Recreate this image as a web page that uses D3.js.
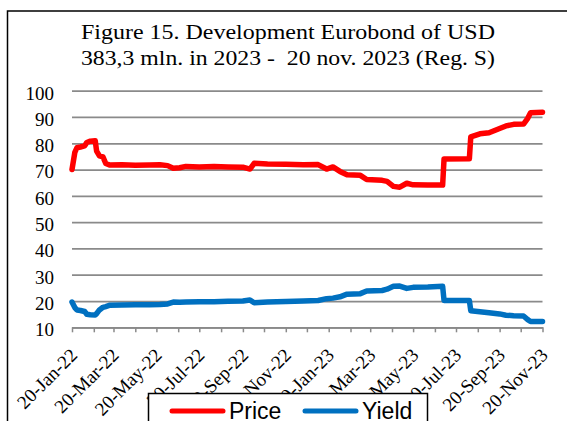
<!DOCTYPE html>
<html>
<head>
<meta charset="utf-8">
<script src="https://cdn.jsdelivr.net/npm/d3@7"></script>
<style>
  html, body { margin: 0; padding: 0; background: #fff; }
  svg { display: block; }
</style>
</head>
<body>
<div class="chart-container"></div>
<script>
// data
const dates = [
  '2022-01-20','2022-01-24','2022-01-27','2022-02-01','2022-02-07','2022-02-10','2022-02-15','2022-02-22',
  '2022-02-24','2022-02-28','2022-03-05','2022-03-09','2022-03-15','2022-04-01','2022-04-20','2022-05-10',
  '2022-05-25','2022-06-05','2022-06-13','2022-06-22','2022-07-01','2022-07-20','2022-08-10','2022-08-30',
  '2022-09-20','2022-09-30','2022-10-06','2022-10-25','2022-11-20','2022-12-15','2023-01-05','2023-01-17',
  '2023-01-26','2023-02-05','2023-02-15','2023-03-06','2023-03-15','2023-04-06','2023-04-13','2023-04-22',
  '2023-05-01','2023-05-11','2023-05-20','2023-06-10','2023-07-01','2023-07-03','2023-08-08','2023-08-10',
  '2023-08-23','2023-09-05','2023-09-20','2023-09-29','2023-10-10','2023-10-24','2023-10-30','2023-11-03',
  '2023-11-20'
];
const priceValues = [
  70.0, 76.5, 78.3, 78.6, 79.0, 80.3, 80.8, 81.0,
  77.0, 75.2, 74.8, 72.3, 71.7, 71.8, 71.6, 71.7,
  71.8, 71.5, 70.5, 70.7, 71.2, 71.0, 71.2, 71.0,
  70.9, 70.2, 72.4, 72.1, 72.0, 71.8, 71.9, 70.2,
  71.0, 69.3, 68.0, 67.8, 66.2, 65.9, 65.5, 63.6,
  63.3, 64.8, 64.2, 64.1, 64.1, 74.0, 74.1, 82.4,
  83.6, 84.0, 85.6, 86.6, 87.2, 87.3, 89.5, 91.6,
  91.8
];
const yieldValues = [
  19.6, 17.5, 16.6, 16.4, 16.0, 15.0, 14.8, 14.7,
  15.2, 16.6, 17.6, 17.9, 18.4, 18.5, 18.6, 18.6,
  18.7, 18.9, 19.6, 19.5, 19.6, 19.7, 19.7, 19.9,
  20.0, 20.4, 19.3, 19.6, 19.8, 20.0, 20.2, 20.9,
  21.1, 21.6, 22.6, 22.8, 23.8, 24.0, 24.5, 25.6,
  25.7, 24.8, 25.2, 25.3, 25.6, 20.2, 20.2, 16.3,
  15.9, 15.5, 15.1, 14.6, 14.4, 14.3, 12.9, 12.2,
  12.2
];
const yTicks = [10, 20, 30, 40, 50, 60, 70, 80, 90, 100];
const xLabelDates = ['2022-01-20','2022-03-20','2022-05-20','2022-07-20','2022-09-20','2022-11-20',
                     '2023-01-20','2023-03-20','2023-05-20','2023-07-20','2023-09-20','2023-11-20'];
const seriesNames = ['Price', 'Yield'];
const seriesColors = ['#ff0000', '#0070c0'];
const titleLines = ['Figure 15. Development Eurobond of USD', '383,3 mln. in 2023 -  20 nov. 2023 (Reg. S)'];

const parseDate = d3.timeParse('%Y-%m-%d');
const fmtDate = d3.timeFormat('%d-%b-%y');

const svg_width = 567, svg_height = 421;
const plot = {left: 72, right: 542.5, top: 90.7, bottom: 327.3};
const gridColor = '#8a8a8a';

const rows = dates.map((d, i) => ({date: parseDate(d), price: priceValues[i], yield: yieldValues[i]}));

const svg = d3.select('.chart-container').append('svg')
  .attr('width', svg_width).attr('height', svg_height);

// outer frame (cut by the picture edge on the right and bottom)
svg.append('rect').attr('x', 7.5).attr('y', 11).attr('width', 620).attr('height', 500)
  .attr('fill', '#fff').attr('stroke', '#000').attr('stroke-width', 1.5);

// title
const title = svg.append('g').attr('class', 'title')
  .style('font-family', '"Liberation Serif", "Times New Roman", serif')
  .style('font-size', '20px').style('fill', '#000');
titleLines.forEach((t, i) => {
  title.append('text').attr('x', 288).attr('y', 38.5 + i * 26.7)
    .attr('text-anchor', 'middle').style('white-space', 'pre')
    .attr('textLength', 414).attr('lengthAdjust', 'spacingAndGlyphs')
    .text(t);
});

const xDomain = [parseDate(dates[0]), parseDate(dates[dates.length - 1])];
const xScale = d3.scaleTime().domain(xDomain).range([plot.left, plot.right]);
const yScale = d3.scaleLinear().domain([10, 100]).range([plot.bottom, plot.top]);

// horizontal gridlines + y labels
const yAxis = d3.axisLeft(yScale).tickValues(yTicks)
  .tickSize(-(plot.right - plot.left)).tickPadding(18).tickFormat(d3.format('d'));
const yAxisDraw = svg.append('g').attr('class', 'yaxis')
  .attr('transform', `translate(${plot.left},0)`).call(yAxis);
yAxisDraw.select('.domain').remove();
yAxisDraw.selectAll('line').attr('stroke', gridColor).attr('stroke-width', 1.75);
yAxisDraw.selectAll('text')
  .attr('dy', '0.44em')
  .style('font-family', '"Liberation Serif", "Times New Roman", serif')
  .style('font-size', '19px').style('fill', '#000');

// bottom axis with monthly ticks, labels every second month
const monthTicks = d3.range(23).map(i => d3.timeMonth.offset(xDomain[0], i));
const labelSet = new Set(xLabelDates);
const xAxis = d3.axisBottom(xScale).tickValues(monthTicks)
  .tickSizeInner(5).tickSizeOuter(0)
  .tickFormat(d => labelSet.has(d3.timeFormat('%Y-%m-%d')(d)) ? fmtDate(d) : '');
const xAxisDraw = svg.append('g').attr('class', 'xaxis')
  .attr('transform', `translate(0,${plot.bottom})`).call(xAxis);
xAxisDraw.select('.domain').attr('stroke', gridColor).attr('stroke-width', 1.75);
xAxisDraw.selectAll('line').attr('stroke', gridColor).attr('stroke-width', 1.5);
xAxisDraw.selectAll('text')
  .attr('x', 0).attr('y', 0).attr('dy', 0)
  .attr('text-anchor', 'end')
  .attr('transform', 'translate(6,29) rotate(-45)')
  .style('font-family', '"Liberation Serif", "Times New Roman", serif')
  .style('font-size', '19px').style('fill', '#000');

// series lines
const keys = ['price', 'yield'];
keys.forEach((k, i) => {
  const line = d3.line().x(d => xScale(d.date)).y(d => yScale(d[k]));
  svg.append('path').datum(rows)
    .attr('class', 'line-' + k)
    .attr('fill', 'none')
    .attr('stroke', seriesColors[i])
    .attr('stroke-width', 5.5)
    .attr('stroke-linejoin', 'round')
    .attr('stroke-linecap', 'round')
    .attr('d', line);
});

// legend
const legend = svg.append('g').attr('class', 'legend');
legend.append('rect').attr('x', 148.5).attr('y', 393.5).attr('width', 279).attr('height', 60)
  .attr('fill', '#fff').attr('stroke', '#000').attr('stroke-width', 1.5);
const legendItems = [{x: 170}, {x: 303}];
seriesNames.forEach((name, i) => {
  const lx = legendItems[i].x;
  legend.append('line').attr('x1', lx + 2).attr('x2', lx + 53).attr('y1', 411).attr('y2', 411)
    .attr('stroke', seriesColors[i]).attr('stroke-width', 5).attr('stroke-linecap', 'round');
  legend.append('text').attr('x', lx + 59).attr('y', 419)
    .style('font-family', '"Liberation Sans", Arial, sans-serif')
    .style('font-size', '23px').style('fill', '#000')
    .text(name);
});
</script>
</body>
</html>
